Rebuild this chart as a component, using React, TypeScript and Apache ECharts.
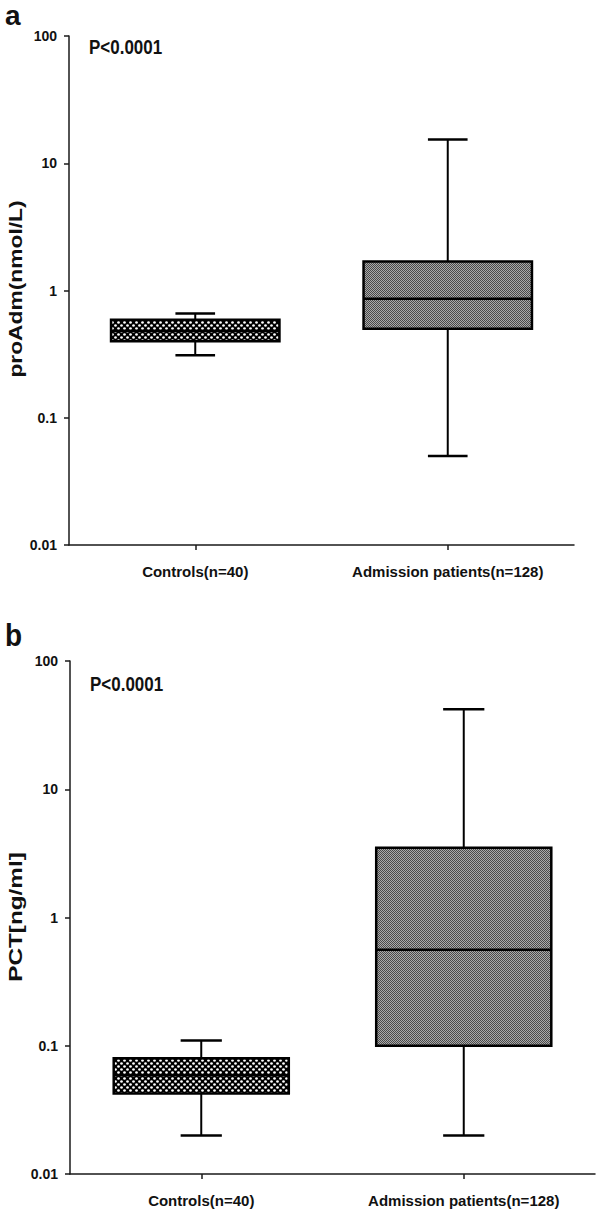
import React, { useEffect, useRef } from 'react';
import * as echarts from 'echarts';

const categories = ['Controls(n=40)', 'Admission patients(n=128)'];
// [min, Q1, median, Q3, max]
const proAdmControls = [0.31, 0.40, 0.48, 0.59, 0.66];
const proAdmAdmission = [0.05, 0.50, 0.86, 1.69, 15.4];
const pctControls = [0.02, 0.0425, 0.059, 0.080, 0.11];
const pctAdmission = [0.02, 0.10, 0.56, 3.5, 42];
const yTickLabels = ['0.01', '0.1', '1', '10', '100'];
const panelLabels = ['a', 'b'];
const yTitles = ['proAdm(nmol/L)', 'PCT[ng/ml]'];
const pText = 'P<0.0001';

const FONT = '"Liberation Sans", Arial, sans-serif';

function makeDotPattern(): HTMLCanvasElement {
  const c = document.createElement('canvas');
  c.width = 6;
  c.height = 6;
  const g = c.getContext('2d')!;
  g.fillStyle = '#000';
  g.fillRect(0, 0, 6, 6);
  g.fillStyle = '#fff';
  g.beginPath();
  g.arc(1.5, 1.5, 1.35, 0, Math.PI * 2);
  g.fill();
  g.beginPath();
  g.arc(4.5, 4.5, 1.35, 0, Math.PI * 2);
  g.fill();
  return c;
}

function makeGrayPattern(): HTMLCanvasElement {
  const c = document.createElement('canvas');
  c.width = 2;
  c.height = 2;
  const g = c.getContext('2d')!;
  g.fillStyle = '#aaaaaa';
  g.fillRect(0, 0, 2, 2);
  g.fillStyle = '#4a4a4a';
  g.fillRect(0, 0, 1, 1);
  g.fillRect(1, 1, 1, 1);
  return c;
}

export default function App() {
  const ref = useRef<HTMLDivElement>(null);

  useEffect(() => {
    document.body.style.margin = '0';
    const chart = echarts.init(ref.current!, null, { renderer: 'svg' });
    const dotPattern = { image: makeDotPattern(), repeat: 'repeat' };
    const grayPattern = { image: makeGrayPattern(), repeat: 'repeat' };

    const renderBox = (params: any, api: any) => {
      const cat = api.value(0);
      const vals = [1, 2, 3, 4, 5].map((i) => api.value(i));
      const pts = vals.map((v) => api.coord([cat, v]));
      const cx = pts[0][0];
      const band = params.coordSys.width / categories.length;
      const bw = band * 0.667;
      const cap = band * 0.157;
      const [yMin, yQ1, yMed, yQ3, yMax] = pts.map((p: number[]) => p[1]);
      const fill = cat === 0 ? dotPattern : grayPattern;
      const line = { stroke: '#000', lineWidth: 2 };
      return {
        type: 'group',
        children: [
          { type: 'line', shape: { x1: cx, y1: yMax, x2: cx, y2: yQ3 }, style: line },
          { type: 'line', shape: { x1: cx, y1: yQ1, x2: cx, y2: yMin }, style: line },
          { type: 'line', shape: { x1: cx - cap / 2, y1: yMax, x2: cx + cap / 2, y2: yMax }, style: { stroke: '#000', lineWidth: 2.5 } },
          { type: 'line', shape: { x1: cx - cap / 2, y1: yMin, x2: cx + cap / 2, y2: yMin }, style: { stroke: '#000', lineWidth: 2.5 } },
          {
            type: 'rect',
            shape: { x: cx - bw / 2, y: yQ3, width: bw, height: yQ1 - yQ3 },
            style: { fill, stroke: '#000', lineWidth: 2.5 },
          },
          { type: 'line', shape: { x1: cx - bw / 2, y1: yMed, x2: cx + bw / 2, y2: yMed }, style: { stroke: '#000', lineWidth: 2.5 } },
        ],
      };
    };

    const axisLineStyle = { color: '#1a1a1a', width: 1.5 };
    const makeX = (gi: number) => ({
      gridIndex: gi,
      type: 'category',
      data: categories,
      boundaryGap: true,
      axisLine: { show: true, onZero: false, lineStyle: axisLineStyle },
      axisTick: { show: true, alignWithLabel: true, length: 5, lineStyle: axisLineStyle },
      axisLabel: { fontSize: 15, fontWeight: 'bold', color: '#111', margin: 19, fontFamily: FONT },
      splitLine: { show: false },
    });
    const makeY = (gi: number) => ({
      gridIndex: gi,
      type: 'log',
      logBase: 10,
      min: 0.01,
      max: 100,
      axisLine: { show: true, onZero: false, lineStyle: axisLineStyle },
      axisTick: { show: true, length: 5, lineStyle: axisLineStyle },
      minorTick: { show: false },
      splitLine: { show: false },
      axisLabel: {
        fontSize: 14,
        fontWeight: 'bold',
        color: '#111',
        margin: 12,
        fontFamily: FONT,
        formatter: (v: number) => yTickLabels[Math.round(Math.log10(v)) + 2] ?? '',
      },
    });

    const textEl = (text: string, x: number, y: number, size: number, extra: any = {}) => ({
      type: 'text',
      x,
      y,
      ...extra,
      style: {
        text,
        font: `bold ${size}px ${FONT}`,
        fill: '#111',
        textAlign: extra.textAlign ?? 'left',
        textVerticalAlign: 'middle',
      },
    });

    chart.setOption({
      animation: false,
      backgroundColor: '#fff',
      grid: [
        { left: 69, top: 36, width: 505, height: 509 },
        { left: 70, top: 661, width: 525, height: 513 },
      ],
      xAxis: [makeX(0), makeX(1)],
      yAxis: [makeY(0), makeY(1)],
      series: [
        {
          type: 'custom',
          xAxisIndex: 0,
          yAxisIndex: 0,
          renderItem: renderBox,
          encode: { x: 0, y: [1, 2, 3, 4, 5] },
          data: [
            [0, ...proAdmControls],
            [1, ...proAdmAdmission],
          ],
        },
        {
          type: 'custom',
          xAxisIndex: 1,
          yAxisIndex: 1,
          renderItem: renderBox,
          encode: { x: 0, y: [1, 2, 3, 4, 5] },
          data: [
            [0, ...pctControls],
            [1, ...pctAdmission],
          ],
        },
      ],
      graphic: [
        textEl(panelLabels[0], 5, 15, 28),
        textEl(panelLabels[1], 5, 635, 28, { scaleY: 1.12 }),
        textEl(pText, 89, 47, 17, { scaleY: 1.2 }),
        textEl(pText, 90, 684, 17, { scaleY: 1.2 }),
        {
          type: 'text',
          x: 15,
          y: 289,
          rotation: Math.PI / 2,
          scaleX: 1.2,
          style: { text: yTitles[0], font: `bold 19px ${FONT}`, fill: '#111', textAlign: 'center', textVerticalAlign: 'middle' },
        },
        {
          type: 'text',
          x: 15,
          y: 917,
          rotation: Math.PI / 2,
          scaleX: 1.28,
          style: { text: yTitles[1], font: `bold 19px ${FONT}`, fill: '#111', textAlign: 'center', textVerticalAlign: 'middle' },
        },
      ],
    });
    return () => chart.dispose();
  }, []);

  return <div ref={ref} style={{ width: 600, height: 1217 }} />;
}
